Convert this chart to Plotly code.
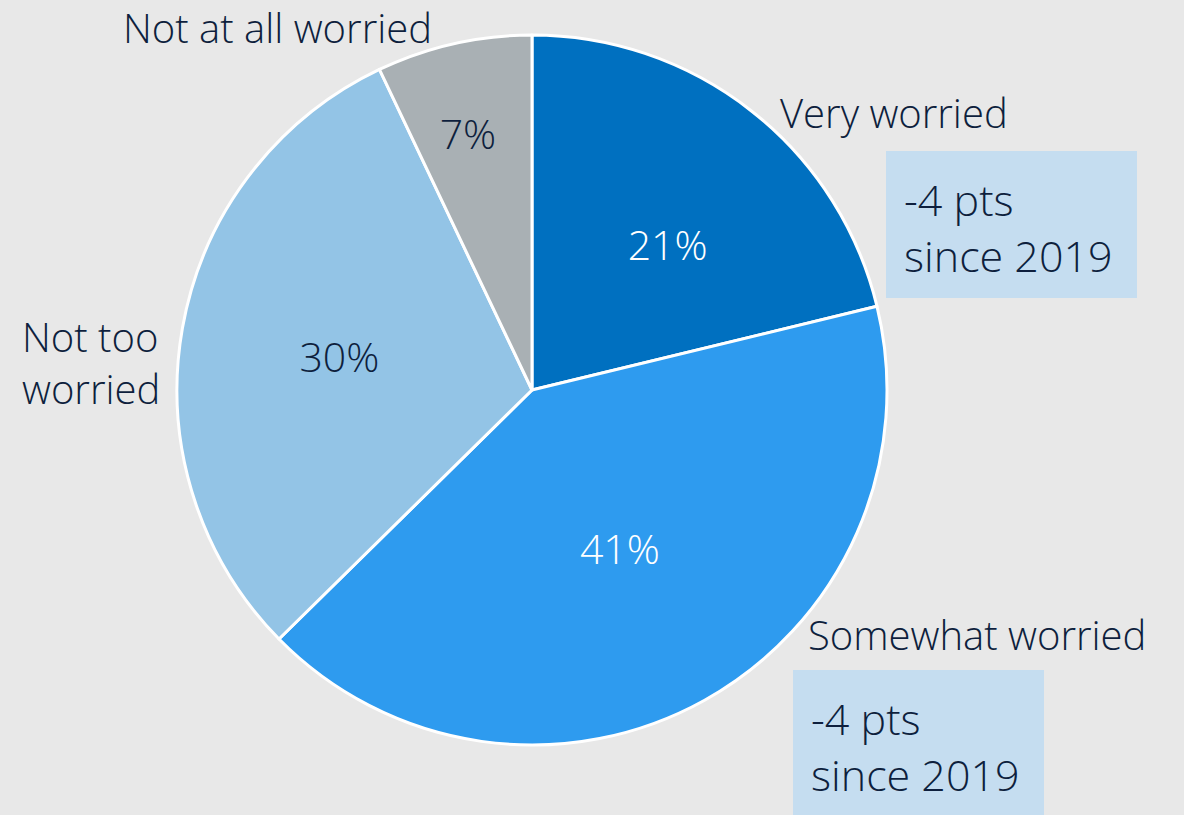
import plotly.graph_objects as go

labels = ["Very worried", "Somewhat worried", "Not too worried", "Not at all worried"]
values = [21, 41, 30, 7]
colors = ["#0070C0", "#2E9BEF", "#93C4E6", "#A9B0B4"]
text_colors = ["white", "white", "#0E1F3D", "#0E1F3D"]
change_note = "-4 pts<br>since 2019"

W, H = 1184, 815
ink = "#0E1F3D"
font_family = "Open Sans, Noto Sans, sans-serif"


def px(x):
    return x / W


def py(y):
    return 1 - y / H


fig = go.Figure()

fig.add_trace(go.Pie(
    labels=labels,
    values=values,
    sort=False,
    direction="clockwise",
    rotation=0,
    marker=dict(colors=colors, line=dict(color="white", width=3)),
    # blank first line nudges the small-slice labels toward the centre
    texttemplate=[" <br>%{value}%", "%{value}%", "%{value}%", " <br>%{value}%"],
    textposition="inside",
    insidetextorientation="horizontal",
    insidetextfont=dict(color=text_colors, size=41, family=font_family, weight=300),
    domain=dict(x=[px(177), px(887)], y=[py(745), py(35)]),
    showlegend=False,
    hoverinfo="label+value",
))

# light blue call-out boxes
fig.add_shape(type="rect", xref="paper", yref="paper",
              x0=px(886), x1=px(1137), y0=py(298), y1=py(151),
              fillcolor="#C5DDF0", line=dict(width=0), layer="above")
fig.add_shape(type="rect", xref="paper", yref="paper",
              x0=px(793), x1=px(1044), y0=py(830), y1=py(670),
              fillcolor="#C5DDF0", line=dict(width=0), layer="above")

label_font = dict(size=40, color=ink, family=font_family, weight=300)
note_font = dict(size=43, color=ink, family=font_family, weight=300)

annotations = [
    dict(text=labels[3], x=px(277), y=py(27), xanchor="center", yanchor="middle", font=label_font),
    dict(text=labels[0], x=px(778), y=py(113), xanchor="left", yanchor="middle", font=label_font),
    dict(text=labels[1], x=px(806), y=py(634), xanchor="left", yanchor="middle", font=label_font),
    dict(text="Not too<br>worried", x=px(20), y=py(362), xanchor="left", yanchor="middle",
         align="left", font=label_font),
    dict(text=change_note, x=px(902), y=py(228), xanchor="left", yanchor="middle",
         align="left", font=note_font),
    dict(text=change_note, x=px(809), y=py(746), xanchor="left", yanchor="middle",
         align="left", font=note_font),
]
for a in annotations:
    fig.add_annotation(xref="paper", yref="paper", showarrow=False, **a)

fig.update_layout(
    width=W,
    height=H,
    margin=dict(l=0, r=0, t=0, b=0),
    paper_bgcolor="#E8E8E8",
    plot_bgcolor="#E8E8E8",
    font=dict(family=font_family, color=ink),
)

fig.write_html(
    "out.html",
    config={"displayModeBar": False},
    post_script="document.body.style.margin='0';document.body.style.background='#E8E8E8';",
)
